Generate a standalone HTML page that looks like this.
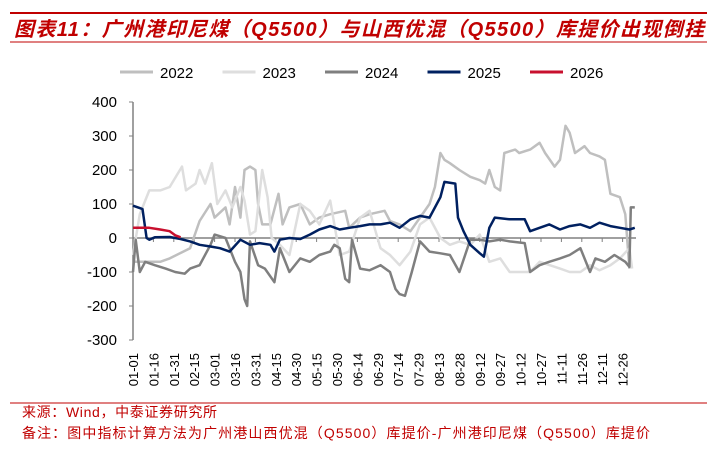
<!DOCTYPE html>
<html><head><meta charset="utf-8"><style>
body{margin:0;width:717px;height:453px;background:#fff;overflow:hidden;font-family:"Liberation Sans","Noto Sans CJK SC",sans-serif;}
</style></head><body>
<svg id="c" width="717" height="453" xmlns="http://www.w3.org/2000/svg">
<line x1="10" y1="13" x2="707" y2="13" stroke="#c00000" stroke-width="2"/>
<text x="14" y="36" fill="#c00000" font-size="20" font-weight="bold" font-style="italic" textLength="690" lengthAdjust="spacing" font-family="Liberation Sans,Noto Sans CJK SC,sans-serif">图表11：广州港印尼煤（Q5500）与山西优混（Q5500）库提价出现倒挂</text>
<line x1="10" y1="42" x2="707" y2="42" stroke="#c00000" stroke-width="1"/>
<line x1="10" y1="403" x2="707" y2="403" stroke="#c00000" stroke-width="1"/>
<text x="22" y="417" fill="#c00000" font-size="14" textLength="195" lengthAdjust="spacing">来源：Wind，中泰证券研究所</text>
<text x="22" y="438" fill="#c00000" font-size="14" textLength="628" lengthAdjust="spacing">备注：图中指标计算方法为广州港山西优混（Q5500）库提价-广州港印尼煤（Q5500）库提价</text>
<g id="legend"></g><g id="axes"></g><g id="plot"></g>
</svg>
<script>
const yTicks=[400,300,200,100,0,-100,-200,-300];
const xTickLabels=["01-01","01-16","01-31","02-15","03-01","03-16","03-31","04-15","04-30","05-15","05-30","06-14","06-29","07-14","07-29","08-13","08-28","09-12","09-27","10-12","10-27","11-11","11-26","12-11","12-26"];
const seriesNames=["2022","2023","2024","2025","2026"];
const d2022=[0,20,27,42,49,57,60,68,71,75,79,82,86,90,92,95,101,107,110,115,123,130,137,145,156,159,167,174,185,189,196,204,211,218,222,226,229,233,240,248,255,259,262,266,270,273,281,284,292,299,303,310,314,318,321,325,332,336,343,347,351,358,362,365];
const v2022=[-70,-70,-60,-30,50,100,60,90,40,150,60,200,210,200,100,40,40,130,40,90,100,40,60,70,80,30,60,70,80,50,40,20,60,100,150,250,230,220,200,180,170,160,200,150,140,250,260,250,260,280,250,210,230,330,310,250,270,250,240,230,130,120,70,-90];
const d2023=[0,5,12,20,27,33,36,39,46,49,53,58,62,68,73,79,82,86,90,95,99,102,108,115,123,130,137,145,152,159,167,174,182,189,196,204,211,218,226,233,240,248,255,262,270,277,284,292,299,314,321,329,336,343,351,358,365,367];
const v2023=[-50,70,140,140,150,190,210,140,160,200,160,220,100,140,90,150,110,10,20,200,120,0,-20,-50,100,80,40,110,-50,-40,60,80,-30,-50,-80,-40,40,60,0,-20,-10,-20,10,-70,-60,-100,-100,-100,-70,-90,-100,-100,-80,-95,-80,-60,-30,-90];
const d2024=[0,2,5,9,16,24,31,38,42,49,57,60,68,71,75,79,82,84,86,92,97,104,108,115,123,130,137,145,148,152,156,159,161,167,174,182,189,193,196,200,205,211,218,226,233,240,248,255,262,270,277,288,292,299,306,314,321,329,336,340,347,354,362,365,366,369];
const v2024=[-100,-5,-100,-70,-80,-90,-100,-105,-90,-80,-20,10,0,-30,-70,-100,-180,-200,-10,-80,-90,-130,-30,-100,-60,-70,-50,-40,-20,-30,-120,-130,-5,-90,-95,-80,-100,-150,-165,-170,-100,-10,-40,-45,-50,-100,-5,-5,-10,-5,-10,-15,-100,-80,-70,-60,-50,-30,-100,-60,-70,-50,-70,-85,90,90];
const d2025=[0,5,7,10,12,16,27,35,42,49,57,64,71,79,86,93,101,104,108,115,123,130,137,145,152,159,167,174,182,189,196,204,211,218,226,229,237,239,243,248,255,258,262,266,277,288,292,299,306,314,321,329,336,343,351,358,365,369];
const v2025=[95,88,85,0,-5,2,3,-3,-10,-20,-25,-30,-40,-5,-20,-15,-20,-40,-5,0,-3,10,25,35,25,30,35,40,40,45,30,55,65,60,120,165,160,60,20,-20,-45,-55,30,60,55,55,20,30,40,25,35,40,30,45,35,30,25,30];
const d2026=[0,12,20,27,31,35];
const v2026=[30,30,25,20,8,2];
const colors=["#bfbfbf","#dedede","#7f7f7f","#002060","#c8102e"];
const NS="http://www.w3.org/2000/svg";
const X=d=>133+d*1.36;
const Y=v=>238-v*0.34;
function mk(tag,attrs,parent){const e=document.createElementNS(NS,tag);for(const k in attrs)e.setAttribute(k,attrs[k]);parent.appendChild(e);return e;}
const axes=document.getElementById('axes'),plot=document.getElementById('plot'),leg=document.getElementById('legend');
let ya=mk('line',{x1:133,y1:Y(400),x2:133,y2:Y(-300),stroke:'#808080','stroke-width':1.5},axes);


yTicks.forEach(v=>{
  let t=mk('line',{x1:129,y1:Y(v),x2:133,y2:Y(v),stroke:'#808080'},axes);
  
  
  let l=mk('text',{x:117,y:Y(v)+5,'text-anchor':'end','font-size':15,fill:'#000'},axes);
  l.textContent=v;
  
  
});
let z=mk('line',{x1:133,y1:Y(0),x2:636,y2:Y(0),stroke:'#808080','stroke-width':1.5},axes);


xTickLabels.forEach((s,i)=>{
  const x=X(i*15);
  let t=mk('line',{x1:x,y1:Y(0),x2:x,y2:Y(0)+4,stroke:'#808080'},axes);
  
  
  let l=mk('text',{x:0,y:0,'text-anchor':'end','font-size':13,fill:'#000',transform:`translate(${x+5},353) rotate(-90)`},axes);
  l.textContent=s;
  
  
});
const ds=[d2022,d2023,d2024,d2025,d2026],vs=[v2022,v2023,v2024,v2025,v2026];
ds.forEach((d,s)=>{
  const pts=d.map((dd,i)=>X(dd).toFixed(1)+','+Y(vs[s][i]).toFixed(1)).join(' ');
  let p=mk('polyline',{points:pts,fill:'none',stroke:colors[s],'stroke-width':2.5,'stroke-linejoin':'round'},plot);
  
  
  const lx=120+s*102.5;
  let ll=mk('line',{x1:lx,y1:72,x2:lx+33,y2:72,stroke:colors[s],'stroke-width':3},leg);
  
  
  let lt=mk('text',{x:lx+40,y:78,'font-size':15,fill:'#000'},leg);
  lt.textContent=seriesNames[s];
  
  
});
</script>
</body></html>
